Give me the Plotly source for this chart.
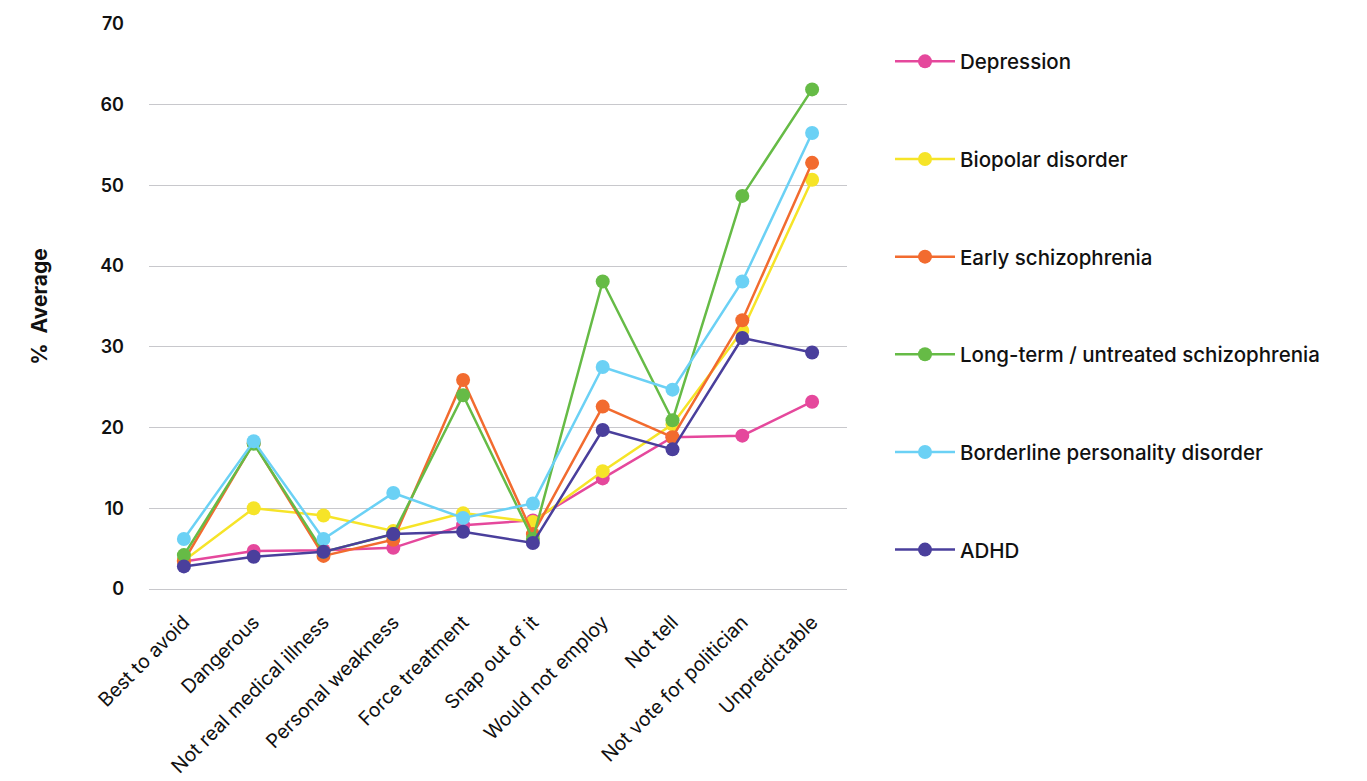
import plotly.graph_objects as go

categories = [
    "Best to avoid", "Dangerous", "Not real medical illness", "Personal weakness",
    "Force treatment", "Snap out of it", "Would not employ", "Not tell",
    "Not vote for politician", "Unpredictable",
]

depression = [3.4, 4.7, 4.8, 5.1, 7.9, 8.5, 13.7, 18.8, 19.0, 23.2]
bipolar = [3.5, 10.0, 9.1, 7.2, 9.4, 8.3, 14.6, 20.4, 32.0, 50.7]
early_schizo = [3.5, 18.1, 4.1, 6.1, 25.9, 6.8, 22.6, 18.8, 33.3, 52.8]
longterm_schizo = [4.2, 18.0, 4.6, 6.8, 24.0, 6.2, 38.1, 20.9, 48.7, 61.9]
borderline = [6.2, 18.3, 6.2, 11.9, 8.8, 10.6, 27.5, 24.7, 38.1, 56.5]
adhd = [2.8, 4.0, 4.6, 6.8, 7.1, 5.7, 19.7, 17.3, 31.1, 29.3]

series = [
    ("Depression", depression, "#e5489c"),
    ("Biopolar disorder", bipolar, "#f6e428"),
    ("Early schizophrenia", early_schizo, "#f26b2f"),
    ("Long-term / untreated schizophrenia", longterm_schizo, "#66bb46"),
    ("Borderline personality disorder", borderline, "#6bd1f5"),
    ("ADHD", adhd, "#4a3f9c"),
]

FONT = "Inter, Lato, sans-serif"

fig = go.Figure()
for i, (name, vals, color) in enumerate(series):
    fig.add_trace(go.Scatter(
        x=categories, y=vals, name=name, mode="lines+markers",
        legendgroup=f"g{i}",
        line=dict(color=color, width=2.5),
        marker=dict(color=color, size=14),
    ))

fig.update_layout(
    width=1367, height=781,
    margin=dict(l=149, r=520, t=24, b=192),
    paper_bgcolor="white", plot_bgcolor="white",
    font=dict(family=FONT, color="#111111"),
    showlegend=True,
    legend=dict(
        x=1.0616, y=0.969, xanchor="left", yanchor="top",
        font=dict(size=20.5, family=FONT, color="#111111", weight=500),
        tracegroupgap=68,
        itemwidth=60,
        bgcolor="rgba(0,0,0,0)",
    ),
    xaxis=dict(
        type="category",
        range=[-0.5, 9.5],
        tickangle=-45,
        tickfont=dict(size=19.5, family=FONT, color="#111111"),
        showgrid=False, showline=False, zeroline=False,
        ticks="", ticklabelstandoff=17,
        automargin=False,
    ),
    yaxis=dict(
        range=[0, 70], dtick=10,
        tickfont=dict(size=18, family=FONT, color="#111111", weight=600),
        showgrid=True, gridcolor="#c8c8cc", gridwidth=1,
        zeroline=True, zerolinecolor="#c8c8cc", zerolinewidth=1,
        showline=False, ticks="", ticklabelstandoff=24,
        automargin=False,
        title=dict(text="%  Average", font=dict(size=21, family=FONT, weight="bold"), standoff=46),
    ),
)

fig.write_html("out.html")
